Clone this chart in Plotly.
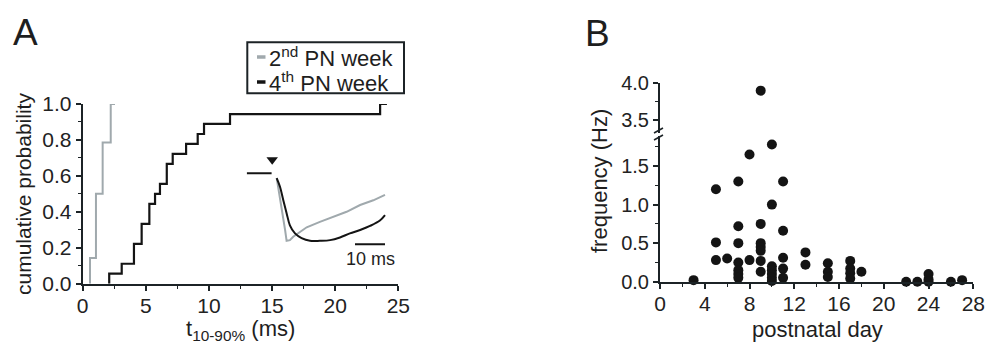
import plotly.graph_objects as go

W, H = 988, 345

# ---------------- Data ----------------
# Panel A: cumulative distributions of 10-90% rise times (ms)
rise_steps_2nd = [0.58, 1.05, 1.58, 2.22]
cum_levels_2nd = [0.143, 0.5, 0.786, 1.0]
rise_end_2nd = 2.56

rise_steps_4th = [2.1, 3.09, 4.06, 4.67, 5.28, 5.73, 6.12, 6.66, 7.13, 8.19, 9.11, 9.61, 11.67, 23.56]
cum_levels_4th = [0.056, 0.111, 0.222, 0.333, 0.444, 0.5, 0.556, 0.667, 0.722, 0.778, 0.833, 0.889, 0.944, 1.0]
rise_end_4th = 24.1

# Inset: example currents (time in ms, normalised amplitude)
inset_base_t = [0.0, 8.3]
inset_base_a = [0.0, 0.0]
inset_t_4th = [10.0, 11.1, 12.2, 13.3, 14.4, 16.1, 18.3, 21.1, 24.4, 27.8, 31.1, 34.4, 37.8, 41.1, 44.4, 46.1]
inset_a_4th = [-0.07, -0.20, -0.40, -0.59, -0.77, -0.89, -0.96, -1.0, -1.0, -0.99, -0.95, -0.89, -0.84, -0.78, -0.70, -0.62]
inset_t_2nd = [10.0, 11.1, 12.2, 12.8, 13.3, 14.4, 15.5, 17.8, 20.0, 24.4, 28.9, 33.3, 37.8, 42.2, 46.1]
inset_a_2nd = [-0.07, -0.35, -0.64, -0.84, -1.0, -0.99, -0.94, -0.87, -0.80, -0.72, -0.64, -0.57, -0.47, -0.40, -0.32]
stim_time = 8.5
scale_bar_ms = 10

# Panel B: frequency vs postnatal day
days = [3, 9, 10, 8, 5, 7, 11, 10, 7, 9, 11, 5, 7, 9, 9, 9, 5, 6, 7, 7, 7, 7, 8, 9, 9,
        10, 10, 10, 10, 10, 11, 11, 11, 13, 13, 15, 15, 15, 17, 17, 17, 17, 18,
        22, 23, 24, 24, 24, 26, 27]
freq = [0.02, 3.9, 1.78, 1.65, 1.2, 1.3, 1.3, 1.0, 0.72, 0.75, 0.66, 0.51, 0.5, 0.5, 0.45, 0.4,
        0.28, 0.3, 0.25, 0.15, 0.1, 0.05, 0.28, 0.27, 0.13, 0.2, 0.15, 0.1, 0.05, 0.01,
        0.31, 0.17, 0.05, 0.38, 0.22, 0.24, 0.13, 0.06, 0.27, 0.17, 0.11, 0.04, 0.13,
        0.0, 0.0, 0.1, 0.03, 0.0, 0.0, 0.02]
break_low, break_high = 1.89, 3.323

# ---------------- helpers ----------------
def fx(p):
    return p / W

def fy(p):
    return 1 - p / H

def step_xy(steps, levels, end):
    xs = [steps[0]] + list(steps) + [end]
    ys = [0.0] + list(levels) + [levels[-1]]
    return xs, ys

GRAY = "#a0a9ad"
BLACK = "#141414"
AX = "#1c2326"
FONT = "Liberation Sans, Arial, sans-serif"

fig = go.Figure()

x2, y2 = step_xy(rise_steps_2nd, cum_levels_2nd, rise_end_2nd)
x4, y4 = step_xy(rise_steps_4th, cum_levels_4th, rise_end_4th)
fig.add_trace(go.Scatter(x=x2, y=y2, mode="lines", line=dict(color=GRAY, width=2, shape="hv"),
                         xaxis="x", yaxis="y", cliponaxis=False, showlegend=False))
fig.add_trace(go.Scatter(x=x4, y=y4, mode="lines", line=dict(color=BLACK, width=2.2, shape="hv"),
                         xaxis="x", yaxis="y", cliponaxis=False, showlegend=False))

# inset
fig.add_trace(go.Scatter(x=inset_t_2nd, y=inset_a_2nd, mode="lines", line=dict(color=GRAY, width=2),
                         xaxis="x3", yaxis="y4", showlegend=False))
fig.add_trace(go.Scatter(x=inset_t_4th, y=inset_a_4th, mode="lines", line=dict(color=BLACK, width=2, shape="spline"),
                         xaxis="x3", yaxis="y4", showlegend=False))
fig.add_trace(go.Scatter(x=inset_base_t, y=inset_base_a, mode="lines", line=dict(color=BLACK, width=2),
                         xaxis="x3", yaxis="y4", showlegend=False))
fig.add_trace(go.Scatter(x=[stim_time], y=[0.2], mode="markers",
                         marker=dict(symbol="triangle-down", size=10, color=BLACK),
                         xaxis="x3", yaxis="y4", showlegend=False))

# panel B
lo_d = [d for d, f in zip(days, freq) if f <= break_low]
lo_f = [f for f in freq if f <= break_low]
hi_d = [d for d, f in zip(days, freq) if f > break_low]
hi_f = [f for f in freq if f > break_low]
fig.add_trace(go.Scatter(x=lo_d, y=lo_f, mode="markers", marker=dict(size=10, color=BLACK),
                         xaxis="x2", yaxis="y2", cliponaxis=False, showlegend=False))
fig.add_trace(go.Scatter(x=hi_d, y=hi_f, mode="markers", marker=dict(size=10, color=BLACK),
                         xaxis="x2", yaxis="y3", cliponaxis=False, showlegend=False))

def common(size):
    return dict(showline=True, linecolor=AX, linewidth=2, ticks="outside", ticklen=5, tickwidth=1.5,
                tickcolor=AX, showgrid=False, zeroline=False, automargin=False, fixedrange=True,
                tickfont=dict(family=FONT, size=size, color="#222"))
minor_x = dict(ticks="outside", ticklen=3, tickwidth=1.2, tickcolor=AX, showgrid=False)

fig.update_layout(
    template="none",
    width=W, height=H, margin=dict(l=0, r=0, t=0, b=0, pad=0, autoexpand=False),
    paper_bgcolor="white", plot_bgcolor="rgba(0,0,0,0)",
    font=dict(family=FONT, color="#222"),
    showlegend=False,
    xaxis=dict(domain=[fx(82.7), fx(398.3)], range=[0, 25], tick0=0, dtick=5, anchor="y",
               ticklabelstandoff=-3, minor=dict(dtick=2.5, **minor_x), **common(21)),
    yaxis=dict(domain=[fy(283.7), fy(104)], range=[0, 1.0], tick0=0, dtick=0.2, tickformat=".1f",
               anchor="x", minor=dict(dtick=0.1, **minor_x), **common(21)),
    xaxis2=dict(domain=[fx(660), fx(973.3)], range=[0, 28], tick0=0, dtick=4, anchor="y2",
                ticklabelstandoff=-3, minor=dict(dtick=2, **minor_x), **common(21)),
    yaxis2=dict(domain=[fy(281.7), fy(136)], range=[0, break_low], tick0=0, dtick=0.5, tickformat=".1f",
                anchor="x2", minor=dict(dtick=0.25, **minor_x), **common(20)),
    yaxis3=dict(domain=[fy(133), fy(83.3)], range=[break_high, 4.0], tick0=3.5, dtick=0.5, tickformat=".1f",
                anchor="x2", minor=dict(dtick=0.25, **minor_x), **common(20)),
    xaxis3=dict(domain=[fx(246.7), fx(390.7)], range=[0, 48], visible=False, anchor="y4",
                fixedrange=True, automargin=False),
    yaxis4=dict(domain=[fy(274.55), fy(146.3)], range=[-1.5, 0.4], visible=False, anchor="x3",
                fixedrange=True, automargin=False),
)

shapes = []
# legend box
shapes.append(dict(type="rect", xref="paper", yref="paper", x0=fx(247.3), x1=fx(404), y0=fy(93.3), y1=fy(42.3),
                   line=dict(color=AX, width=2)))
shapes.append(dict(type="line", xref="paper", yref="paper", x0=fx(257), x1=fx(265.5), y0=fy(57), y1=fy(57),
                   line=dict(color=GRAY, width=3.5)))
shapes.append(dict(type="line", xref="paper", yref="paper", x0=fx(257), x1=fx(265.5), y0=fy(82), y1=fy(82),
                   line=dict(color=BLACK, width=3.5)))
# inset scale bar
shapes.append(dict(type="line", xref="x3", yref="y4", x0=46.1 - scale_bar_ms, x1=46.1, y0=-1.05, y1=-1.05,
                   line=dict(color=BLACK, width=2)))
# axis break marks
for yc in (130.5, 137.5):
    shapes.append(dict(type="line", xref="paper", yref="paper", x0=fx(654), x1=fx(663), y0=fy(yc + 2.5), y1=fy(yc - 2.5),
                       line=dict(color=AX, width=1.6)))
fig.update_layout(shapes=shapes)

ann = []
def text(t, x, y, size, angle=0, xanchor="center", yanchor="middle"):
    ann.append(dict(text=t, x=fx(x), y=fy(y), xref="paper", yref="paper", showarrow=False,
                    xanchor=xanchor, yanchor=yanchor, textangle=angle,
                    font=dict(family=FONT, size=size, color="#1e1e1e")))

text("A", 25, 32, 37)
text("B", 597, 34, 37)
text("cumulative probability", 23, 194, 21, angle=-90)
text("t<sub>10-90%</sub> (ms)", 240, 330, 22)
text("frequency (Hz)", 599, 181, 22, angle=-90)
text("postnatal day", 817, 329, 22)
text("2<sup>nd</sup> PN week", 267, 57, 22, xanchor="left")
text("4<sup>th</sup> PN week", 267, 82, 22, xanchor="left")
text("10 ms", 370, 259, 18)
fig.update_layout(annotations=ann)

fig.write_html("out.html", config={"displayModeBar": False},
               post_script="document.body.style.margin='0';document.body.style.overflow='hidden';")
